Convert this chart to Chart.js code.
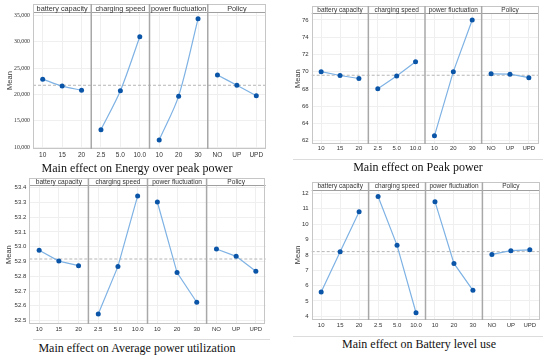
<!DOCTYPE html>
<html><head><meta charset="utf-8">
<script src="https://cdn.jsdelivr.net/npm/chart.js@4/dist/chart.umd.min.js"></script>
<style>
body{margin:0;width:550px;height:358px;background:#fff;position:relative;overflow:hidden}
.c{position:absolute}
.t{position:absolute;font-family:"Liberation Serif",serif;font-size:12px;color:#111;white-space:nowrap;transform:translate(-50%,-50%)}
.sep{position:absolute;height:1px;background:#dcdcdc}
</style></head><body>
<div class="c" style="left:0;top:0"><canvas id="p1" width="275" height="175"></canvas></div>
<div class="c" style="left:275px;top:0"><canvas id="p2" width="275" height="175"></canvas></div>
<div class="c" style="left:0;top:175px"><canvas id="p3" width="275" height="160"></canvas></div>
<div class="c" style="left:275px;top:175px"><canvas id="p4" width="275" height="160"></canvas></div>
<div class="sep" style="left:293px;top:159px;width:250px"></div>
<div class="sep" style="left:33px;top:339px;width:237px"></div>
<div class="sep" style="left:293px;top:336px;width:250px"></div>
<div class="t" style="left:137px;top:168px">Main effect on Energy over peak power</div>
<div class="t" style="left:418px;top:167px">Main effect on Peak power</div>
<div class="t" style="left:137px;top:348px">Main effect on Average power utilization</div>
<div class="t" style="left:419px;top:344px">Main effect on Battery level use</div>
<script>
// ---- data ----
const xLabels = ['10','15','20','2.5','5.0','10.0','10','20','30','NO','UP','UPD'];
const factors = ['battery capacity','charging speed','power fluctuation','Policy'];

const energyBattery  = [22920, 21590, 20820];
const energyCharging = [13290, 20700, 31000];
const energyPower    = [11330, 19680, 34400];
const energyPolicy   = [23700, 21760, 19750];
const energyMean = 21750;
const energyTicks = [10000, 15000, 20000, 25000, 30000, 35000];

const peakBattery  = [70.0, 69.55, 69.2];
const peakCharging = [68.0, 69.5, 71.15];
const peakPower    = [62.55, 70.0, 76.0];
const peakPolicy   = [69.75, 69.7, 69.3];
const peakMean = 69.58;
const peakTicks = [62, 64, 66, 68, 70, 72, 74, 76];

const utilBattery  = [52.976, 52.903, 52.872];
const utilCharging = [52.545, 52.867, 53.344];
const utilPower    = [53.303, 52.825, 52.624];
const utilPolicy   = [52.985, 52.935, 52.834];
const utilMean = 52.917;
const utilTicks = [52.5, 52.6, 52.7, 52.8, 52.9, 53.0, 53.1, 53.2, 53.3, 53.4];

const levelBattery  = [5.58, 8.20, 10.81];
const levelCharging = [11.80, 8.62, 4.23];
const levelPower    = [11.46, 7.44, 5.69];
const levelPolicy   = [8.03, 8.27, 8.33];
const levelMean = 8.21;
const levelTicks = [4, 5, 6, 7, 8, 9, 10, 11, 12];

// ---- drawing ----
const stripPlugin = {
  id: 'strip',
  beforeDatasetsDraw(chart, args, o) {
    const {ctx, chartArea: a, scales: {x, y}} = chart;
    const top = a.top - o.header;
    ctx.save();
    const my = y.getPixelForValue(o.mean);
    ctx.strokeStyle = '#b5b5b5'; ctx.lineWidth = 1; ctx.setLineDash([3, 2]);
    ctx.beginPath(); ctx.moveTo(a.left, my); ctx.lineTo(a.right, my); ctx.stroke();
    ctx.setLineDash([]);
    ctx.fillStyle = '#ffffff'; ctx.fillRect(a.left, top, a.width, o.header);
    ctx.strokeStyle = '#a0a0a0'; ctx.lineWidth = 1;
    ctx.beginPath(); ctx.moveTo(a.left, Math.round(a.top) + 0.5); ctx.lineTo(a.right, Math.round(a.top) + 0.5); ctx.stroke();
    ctx.strokeStyle = '#c6c6c6';
    ctx.strokeRect(Math.round(a.left) + 0.5, Math.round(top) + 0.5, Math.round(a.width) - 1, Math.round(a.bottom - top) - 1);
    ctx.strokeStyle = '#a8a8a8'; ctx.lineWidth = 1.5;
    for (let g = 1; g < 4; g++) {
      const xp = (x.getPixelForValue(3 * g - 1) + x.getPixelForValue(3 * g)) / 2;
      ctx.beginPath(); ctx.moveTo(xp, top); ctx.lineTo(xp, a.bottom); ctx.stroke();
    }
    ctx.fillStyle = '#333'; ctx.font = o.hfont + 'px "Liberation Sans", sans-serif';
    ctx.textAlign = 'center'; ctx.textBaseline = 'middle';
    for (let g = 0; g < 4; g++) {
      ctx.fillText(factors[g], x.getPixelForValue(3 * g + 1), (top + a.top) / 2 + 0.5);
    }
    ctx.restore();
  }
};

function groupData(groups, tension) {
  return groups.map((vals, g) => {
    const d = new Array(12).fill(null);
    vals.forEach((v, i) => { d[3 * g + i] = v; });
    return {
      data: d, borderColor: '#7eb2e4', borderWidth: 1.2, tension: tension,
      pointRadius: 2.5, pointBackgroundColor: '#0b55a8', pointBorderColor: '#0b55a8',
      pointBorderWidth: 0, spanGaps: false
    };
  });
}

function makePanel(id, p) {
  new Chart(document.getElementById(id), {
    type: 'line',
    data: { labels: xLabels, datasets: groupData(p.groups, p.tension || 0) },
    options: {
      responsive: false, animation: false,
      layout: { padding: p.pad },
      plugins: { legend: { display: false }, tooltip: { enabled: false },
        strip: { mean: p.mean, header: p.header, hfont: p.hfont } },
      scales: {
        x: {
          type: 'category', offset: true,
          grid: { offset: false, color: '#efefef', drawTicks: false },
          border: { display: false },
          ticks: { font: { size: p.xfont, family: '"Liberation Sans", sans-serif' }, color: '#333',
                   padding: p.xpad, maxRotation: 0, autoSkip: false },
          afterFit: s => { s.height = p.xH; }
        },
        y: {
          min: p.min, max: p.max,
          grid: { color: '#efefef', drawTicks: false },
          border: { display: false },
          ticks: { font: { size: p.yfont, family: p.yfam || '"Liberation Sans", sans-serif' }, color: '#333',
                   padding: 3, callback: p.fmt },
          afterBuildTicks: s => { s.ticks = p.ticks.map(v => ({ value: v })); },
          afterFit: s => { s.width = p.yW; },
          title: { display: true, text: 'Mean', color: '#333',
                   font: { size: 7.5, family: '"Liberation Sans", sans-serif' },
                   padding: { top: p.tpad, bottom: 0 } }
        }
      }
    },
    plugins: [stripPlugin]
  });
}

makePanel('p1', {
  groups: [energyBattery, energyCharging, energyPower, energyPolicy], mean: energyMean,
  ticks: energyTicks, min: 9620, max: 35700, fmt: v => v.toLocaleString('en-US'),
  pad: { left: 0, top: 12, right: 9, bottom: 14 }, yW: 33, xH: 12, header: 8, tpad: 5,
  hfont: 7.3, xfont: 6.5, xpad: 2, yfont: 5.8, yfam: '"Liberation Serif", serif', tension: 0.3
});
makePanel('p2', {
  groups: [peakBattery, peakCharging, peakPower, peakPolicy], mean: peakMean,
  ticks: peakTicks, min: 61.6, max: 76.77, fmt: v => String(v),
  pad: { left: 10, top: 13.3, right: 11.7, bottom: 21 }, yW: 26.7, xH: 10, header: 7.3, tpad: 8.5,
  hfont: 6.5, xfont: 6, xpad: 1, yfont: 6
});
makePanel('p3', {
  groups: [utilBattery, utilCharging, utilPower, utilPolicy], mean: utilMean,
  ticks: utilTicks, min: 52.477, max: 53.416, fmt: v => v.toFixed(1),
  pad: { left: 0, top: 10.3, right: 9.3, bottom: 0 }, yW: 29.3, xH: 11, header: 7, tpad: 4.5,
  hfont: 6.6, xfont: 6, xpad: 2, yfont: 6
});
makePanel('p4', {
  groups: [levelBattery, levelCharging, levelPower, levelPolicy], mean: levelMean,
  ticks: levelTicks, min: 3.76, max: 12.24, fmt: v => String(v),
  pad: { left: 10, top: 14.7, right: 10.7, bottom: 5 }, yW: 26.7, xH: 10, header: 7.4, tpad: 8.5,
  hfont: 6.5, xfont: 6, xpad: 2, yfont: 6
});
</script>
</body></html>
